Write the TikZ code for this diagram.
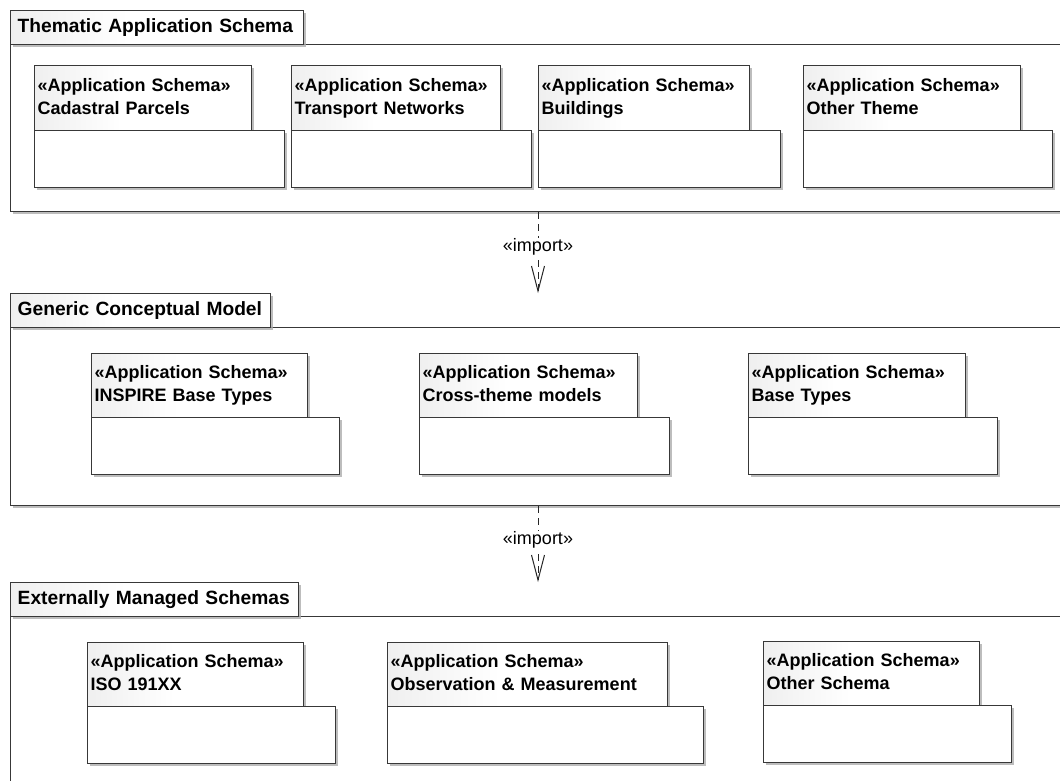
\documentclass[tikz,border=0pt]{standalone}
\usepackage{fontspec}
\setmainfont{Liberation Sans}
\usetikzlibrary{arrows.meta,shadows}

% light grey on the left of a tab, fading to white
\pgfdeclarehorizontalshading{tabshade}{100bp}{color(0bp)=(black!14); color(45bp)=(white); color(100bp)=(white)}

\tikzset{
  pkgline/.style={draw=black!78, line width=1.4pt},
  pkgshadow/.style={drop shadow={shadow xshift=2.5pt, shadow yshift=-2.5pt, fill=black!32, opacity=0.8}},
  pkgtab/.style={pkgline, pkgshadow, shading=tabshade, anchor=north west,
    inner xsep=3pt, inner ysep=0pt, align=left,
    font=\fontsize{18}{23}\selectfont\bfseries},
  pkgbody/.style={pkgline, pkgshadow, fill=white, anchor=north west, inner sep=0pt},
  grouptab/.style={pkgtab, inner xsep=7pt, font=\fontsize{19.2}{23}\selectfont\bfseries},
  importdep/.style={draw=black!85, line width=1pt, dash pattern=on 7pt off 5pt,
    -{Straight Barb[length=25pt,width=13pt,line width=1pt]}},
  importlabel/.style={fill=white, inner sep=1pt, font=\fontsize{18}{20}\selectfont},
}

% \schemapkg{id}{left}{tab top}{tab bottom}{body bottom}{tab right}{body right}{name}
\newcommand\schemapkg[8]{%
  \node[pkgtab, minimum width={#6pt-#2pt}, minimum height={#4pt-#3pt},
        text width={#6pt-#2pt-6pt}] (#1tab) at (#2,#3)
        {\strut\guillemotleft Application Schema\guillemotright\\\strut #8};
  \node[pkgbody, minimum width={#7pt-#2pt}, minimum height={#5pt-#4pt}] (#1body) at (#2,#4) {};
}

% \grouppkg{id}{left}{tab top}{tab bottom}{body bottom}{tab right}{name}
\newcommand\grouppkg[7]{%
  \node[pkgbody, minimum width={1080pt-#2pt}, minimum height={#5pt-#4pt}] (#1body) at (#2,#4) {};
  \node[grouptab, minimum width={#6pt-#2pt}, minimum height={#4pt-#3pt},
        text width={#6pt-#2pt-14pt}] (#1tab) at (#2,#3) {\strut #7};
}

\begin{document}
\begin{tikzpicture}[x=1pt, y=-1pt]
  \useasboundingbox[fill=white] (0,0) rectangle (1060,780);
  \begin{scope}
    \clip (0,0) rectangle (1060,780);

    % top layer: thematic schemas
    \grouppkg{thematic}{10}{10}{44}{211}{303}{Thematic Application Schema}
    \schemapkg{cp}{34}{65}{130}{187}{251}{284}{Cadastral Parcels}
    \schemapkg{tn}{291}{65}{130}{187}{500}{531}{Transport Networks}
    \schemapkg{bu}{538}{65}{130}{187}{749}{780}{Buildings}
    \schemapkg{ot}{803}{65}{130}{187}{1020}{1052}{Other Theme}

    % middle layer: generic conceptual model
    \grouppkg{generic}{10}{293}{327}{505}{270}{Generic Conceptual Model}
    \schemapkg{ibt}{91}{353}{417}{474}{307}{339}{INSPIRE Base Types}
    \schemapkg{ctm}{419}{353}{417}{474}{637}{669}{Cross-theme models}
    \schemapkg{bt}{748}{353}{417}{474}{965}{997}{Base Types}

    % bottom layer: externally managed schemas
    \grouppkg{external}{10}{582}{616}{800}{298}{Externally Managed Schemas}
    \schemapkg{iso}{87}{642}{706}{763}{303}{335}{ISO 191XX}
    \schemapkg{om}{387}{642}{706}{763}{667}{703}{Observation \& Measurement}
    \schemapkg{os}{763}{641}{705}{762}{979}{1011}{Other Schema}

    % import dependencies between the layers
    \coordinate (imp1from) at (thematicbody.south -| 538,0);
    \coordinate (imp1to)   at (538,293);
    \coordinate (imp2from) at (genericbody.south -| 538,0);
    \coordinate (imp2to)   at (538,582);
    \draw[importdep] (imp1from) -- (imp1to);
    \draw[importdep] (imp2from) -- (imp2to);
    \node[importlabel] (imp1label) at (538,247) {\guillemotleft import\guillemotright};
    \node[importlabel] (imp2label) at (538,540) {\guillemotleft import\guillemotright};
  \end{scope}
\end{tikzpicture}
\end{document}
